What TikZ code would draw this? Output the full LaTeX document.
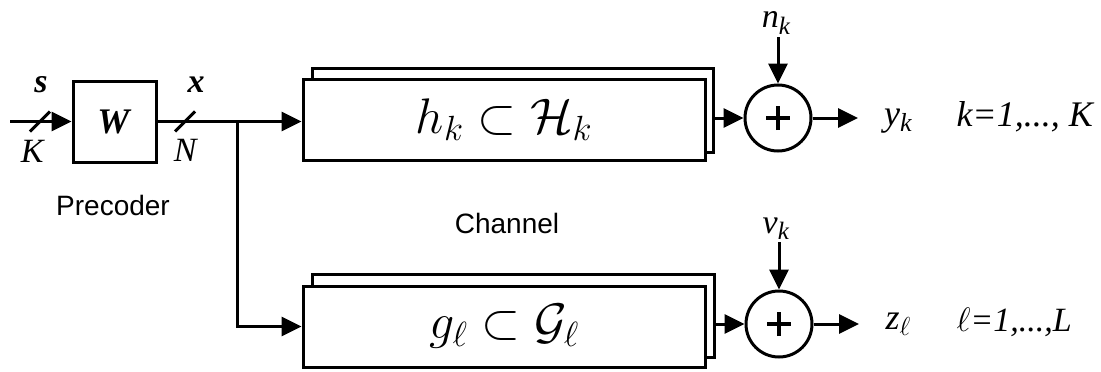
\documentclass[tikz,border=0pt]{standalone}
\usepackage{fontspec}
\usepackage{fix-cm}
\setmainfont{Liberation Serif}
\newfontfamily\arialf{Liberation Sans}
\usetikzlibrary{arrows.meta}
\newcommand{\fs}[1]{\fontsize{#1}{#1}\selectfont}
\newcommand{\sublab}[4]{{\fs{#1}\textit{#2}\raisebox{-0.18em}{\fs{#3}#4}}}
\begin{document}
\begin{tikzpicture}[x=1pt,y=-1pt,line width=3pt,
  arr/.style={-{Triangle[length=20pt,width=19pt]}},
  blk/.style={draw,fill=white,inner sep=0pt},
  sumnode/.style={draw,circle,minimum size=66pt,inner sep=0pt,
    path picture={
      \draw[line width=4.5pt] ([xshift=-12pt]path picture bounding box.center) -- ([xshift=12pt]path picture bounding box.center);
      \draw[line width=4.5pt] ([yshift=-12pt]path picture bounding box.center) -- ([yshift=12pt]path picture bounding box.center);}},
  lab/.style={inner sep=0pt}]
\useasboundingbox (0,0) rectangle (1101,372);

% precoder
\node[draw,minimum width=83pt,minimum height=81pt,inner sep=0pt] (W) at (114.5,121.5) {\fs{36}\textbf{\textit{W}}};
\node[lab] (s) at (41,85) {\fs{34}\textbf{\textit{s}}};
\node[lab] (K) at (33,151) {\fs{34}\textit{K}};
\node[lab] (x) at (196,85) {\fs{34}\textbf{\textit{x}}};
\node[lab] (N) at (186,150) {\fs{34}\textit{N}};
\node[lab] (prec) at (113,205) {\arialf\fs{28}Precoder};
\node[lab] (chan) at (507,223) {\arialf\fs{28}Channel};

% channel boxes (back, then front)
\node[blk,minimum width=401pt,minimum height=84pt] (hb) at (512.5,110) {};
\node[blk,minimum width=402pt,minimum height=81pt] (hf) at (504,119.5) {\fs{50}$h_k \subset \mathcal{H}_k$};
\node[blk,minimum width=402pt,minimum height=83pt] (gb) at (513,315.5) {};
\node[blk,minimum width=402pt,minimum height=81pt] (gf) at (504,326.5) {\fs{50}$g_\ell \subset \mathcal{G}_\ell$};

% adders
\node[sumnode] (c1) at (778,118) {};
\node[sumnode] (c2) at (779,324) {};
\node[lab] (nk) at (776,23) {\sublab{34}{n}{25}{\textit{k}}};
\node[lab] (vk) at (776,229) {\sublab{34}{v}{25}{\textit{k}}};
\node[lab] (yk) at (898,121) {\sublab{36}{y}{26}{\textit{k}}};
\node[lab] (zl) at (898,324) {\sublab{36}{z}{26}{$\ell$}};
\node[lab,anchor=base west] (rk) at (955,126) {\fs{36}\textit{k=1,..., K}};
\node[lab,anchor=base west] (rl) at (955,331) {\fs{34}$\ell$\textit{=1,...,L}};

% connectors
\coordinate (in) at (10,121.5);
\coordinate (j) at (237,121.5);
\coordinate (n1) at (778,37);
\coordinate (v1) at (779,242);
\coordinate (o1) at (858,118);
\coordinate (o2) at (859,324);
\draw[arr] (in) -- (W.west);
\draw[arr] (W.east) -- (hf.west |- W.east);
\draw[arr] (j) |- (gf.west);
\draw[arr] (hb.east |- c1.west) -- (c1.west);
\draw[arr] (gb.east |- c2.west) -- (c2.west);
\draw[arr] (n1) -- (c1.north);
\draw[arr] (v1) -- (c2.north);
\draw[arr] (c1.east) -- (o1);
\draw[arr] (c2.east) -- (o2);

% bus slashes
\draw (30,131.5) -- (50,111.5);
\draw (175,131.5) -- (195,111.5);
\end{tikzpicture}
\end{document}
